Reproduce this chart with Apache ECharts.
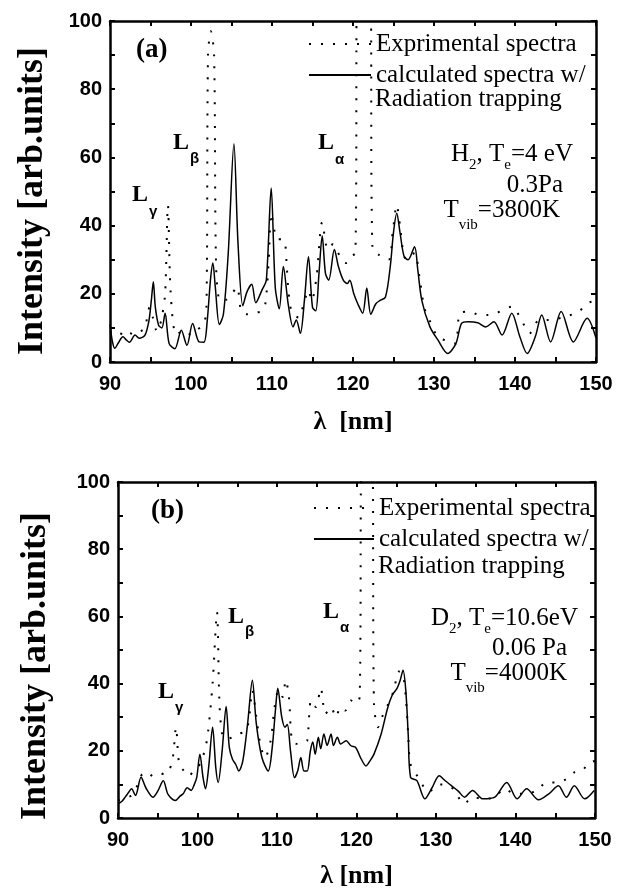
<!DOCTYPE html>
<html><head><meta charset="utf-8">
<script src="https://cdn.jsdelivr.net/npm/echarts@6/dist/echarts.min.js"></script>
<style>html,body{margin:0;padding:0;background:#fff}#c{width:625px;height:890px}</style>
</head><body><div id="c"></div>
<script>
// ---- axis ranges / ticks ----
const xRange = [90, 150];
const xStep = 5;          // tick every 5 nm, label every 10
const xLabelEvery = 10;
const yRange = [0, 100];
const yStep = 10;         // tick every 10, label every 20
const yLabelEvery = 20;

// ---- panel (a): H2 ----
const topExperimental = [
 [90.0,9],[90.5,8],[91.2,8.5],[91.8,7.5],[92.4,8.5],[93.0,8],[93.8,9],[94.3,10],[94.9,16],[95.3,13],
 [95.8,9],[96.3,12],[96.8,20],[97.15,46],[97.5,20],[98.2,8],[99.2,9.3],[100.0,8],[100.5,9],[101.5,11],
 [101.9,15],[102.1,90],[102.45,97],[102.85,90],[103.1,28],[103.6,18],[104.3,18.2],[105.1,20.2],[105.7,22],
 [106.2,15],[107.0,14],[108.0,14.5],[108.8,15],[109.2,17.4],[109.6,30],[109.9,43.6],[110.2,40],[110.6,36],
 [111.2,36],[111.6,35],[111.8,29],[112.0,22],[112.4,15],[113.3,13],[113.9,17],[114.5,21],[114.9,18],
 [115.5,25],[116.2,41],[116.9,33],[117.5,34.5],[118.6,30],[119.2,29],[119.8,31],[120.3,32],[120.55,110],
 [122.1,110],[122.4,33.4],[123.2,31.4],[124.4,30],[124.9,38],[125.4,46],[125.8,40],[126.3,31],[126.8,30],
 [127.6,32],[128.2,25],[128.8,16],[129.5,12],[130.5,7.4],[132.0,5.9],[132.7,5.4],[133.2,14.3],[134.4,14.8],
 [135.6,13.8],[136.6,13.8],[137.5,14],[138.4,15.2],[139.6,16.2],[140.8,12.3],[141.8,8.4],[143.0,12.3],
 [144.2,12.3],[146.2,13.3],[147.9,14.8],[148.9,17.2],[150.0,18]
];
const topCalculated = [
 [90.0,11],[90.3,6],[90.6,4],[91.0,5.5],[91.6,7.4],[92.0,6.5],[92.4,5.8],[93.1,7.9],[93.6,7],[94.3,7.8],
 [94.8,12],[95.1,18],[95.35,23.5],[95.6,16],[96.0,10.8],[96.4,10],[96.8,14.3],[97.3,5.4],[98.0,3.9],
 [98.8,9.3],[99.5,4.9],[100.2,11.3],[101.0,5.9],[101.6,5.8],[102.0,12],[102.4,24],[102.7,29],[103.0,22],
 [103.5,11],[104.0,14],[104.6,32],[105.3,64],[105.8,35],[106.4,16.5],[106.9,20.5],[107.5,22.8],[108.0,17.4],
 [108.8,21.3],[109.3,24],[109.9,51],[110.4,22],[110.9,15.6],[111.4,28],[112.0,17],[112.6,10.3],[113.0,12.3],
 [113.5,8.4],[114.0,18],[114.5,30.9],[115.0,16],[115.4,15],[115.8,26],[116.2,37],[116.6,26],[117.0,24],
 [117.7,33],[118.2,28],[118.8,24],[119.3,23],[119.6,24],[120.1,20],[120.6,17],[121.2,14.3],[121.7,21.7],
 [122.2,14],[122.8,17],[123.3,18],[124.0,19],[124.6,28],[125.0,38],[125.4,43.6],[125.8,38],[126.3,31],
 [126.8,30],[127.6,33.8],[128.0,27],[128.5,18],[129.5,10.3],[130.5,6.4],[131.7,2.5],[132.7,5.4],[133.4,11.3],
 [134.2,11.8],[135.4,11.5],[136.4,10.3],[137.4,11.8],[138.4,7.9],[139.6,14.3],[140.6,7.4],[141.5,2.5],
 [142.5,7.4],[143.3,13.8],[144.4,5.9],[145.7,14.8],[147.2,5.9],[148.9,12.8],[150.0,7]
];

// ---- panel (b): D2 ----
const bottomExperimental = [
 [90.0,5.2],[90.8,6],[91.7,6.7],[92.5,10],[93.1,13],[93.7,12],[94.4,13],[95.2,13.5],[95.8,13],[96.4,14],
 [96.9,18],[97.3,27],[97.7,16],[98.3,14],[98.9,12.5],[99.5,14],[100.0,15],[100.5,17],[101.0,21],[101.3,25],
 [101.9,40],[102.45,61.3],[102.75,35],[103.1,25],[103.6,23.5],[104.4,24],[105.2,25],[106.1,26],[106.5,30],
 [106.9,38],[107.4,30],[107.9,22],[108.5,18],[109.2,23],[109.7,33],[110.2,38],[110.7,36],[111.1,41],
 [111.5,36],[111.9,23],[112.6,22],[113.4,22.5],[113.8,23],[114.3,35],[114.9,33],[115.5,38.6],[116.1,31],
 [116.8,33],[117.4,30],[118.0,33],[118.6,32],[119.3,35],[119.9,34],[120.4,36],[120.7,110],[121.95,110],
 [122.2,34],[122.7,27],[123.2,30],[124.0,34],[124.7,38],[125.3,43.6],[125.8,43],[126.2,36],[126.5,25],
 [126.8,16],[127.8,12],[129.1,7.8],[130.4,10],[131.6,9.7],[132.4,8],[133.5,4.2],[134.7,6.2],[135.9,5.7],
 [137.4,6.2],[138.6,8.7],[139.9,7.2],[141.2,7.2],[142.7,8.2],[143.9,10.6],[145.2,10.6],[146.4,11.6],
 [147.4,13.6],[148.4,14.1],[149.2,16.5],[150.0,17]
];
const bottomCalculated = [
 [90.0,4.2],[90.5,5],[90.9,6.2],[91.3,7.5],[91.7,8.7],[92.2,6.7],[92.9,12.1],[93.5,9],[94.4,6.2],[95.0,8],
 [95.7,11.1],[96.3,7],[97.2,5.2],[97.8,6.5],[98.2,7.2],[98.7,9],[99.2,8.2],[99.6,10],[99.9,12],[100.3,19],
 [100.7,12],[101.0,8.7],[101.4,15],[101.9,27],[102.3,15],[102.6,10.6],[103.1,20],[103.6,33.2],[104.0,21],
 [104.4,17.5],[104.8,16],[105.2,14],[105.7,17],[106.3,28],[106.9,41],[107.4,28],[108.1,18],[108.9,14],
 [109.4,21],[109.8,32],[110.1,38.6],[110.6,30],[111.0,27],[111.3,27.8],[111.7,20],[112.2,12],[112.6,14],
 [113.0,18],[113.4,14],[113.8,14],[114.2,20],[114.5,22.6],[114.8,19],[115.2,24],[115.5,20.6],[115.9,25],
 [116.3,21.6],[116.8,25],[117.1,21.6],[117.6,24],[118.0,22],[118.7,23],[119.3,21.5],[119.9,21],[120.5,18],
 [121.2,15.5],[121.7,17],[122.2,19],[123.1,25],[123.9,32.6],[124.5,36.6],[125.1,38.6],[125.5,41],[125.85,44],
 [126.2,38],[126.5,25],[126.8,12.1],[127.6,11.1],[128.6,5.7],[129.5,9],[130.4,12.6],[131.2,11],[131.9,9.7],
 [132.8,8],[133.6,6.2],[134.6,8.2],[135.9,5.7],[137.4,6.2],[138.9,10.6],[140.2,5.7],[141.4,8.7],[142.9,5.4],
 [144.2,7.2],[145.4,9.6],[146.4,6.2],[147.4,9.6],[148.7,5.7],[149.9,8.2]
];

const serif = '"Liberation Serif", "Times New Roman", serif';
const sans = '"Liberation Sans", Arial, sans-serif';

function xAx(gi, pos, withLabels, nameGap) {
  return {
    gridIndex: gi, type: 'value', position: pos, min: xRange[0], max: xRange[1], interval: xStep,
    axisLine: {onZero: false, lineStyle: {color: '#000', width: 2.5}},
    axisTick: {inside: true, length: 5, lineStyle: {color: '#000', width: 2}},
    splitLine: {show: false},
    axisLabel: {show: withLabels, margin: 12, color: '#000', fontFamily: sans, fontWeight: 'bold', fontSize: 20,
      formatter: v => (v % xLabelEvery === 0 ? String(v) : '')},
    name: withLabels ? (gi === 0 ? 'λ  [nm]' : 'λ [nm]') : '',
    nameLocation: 'middle', nameGap: nameGap,
    nameTextStyle: {color: '#000', fontFamily: serif, fontWeight: 'bold', fontSize: 26}
  };
}
function yAx(gi, pos, withLabels) {
  return {
    gridIndex: gi, type: 'value', position: pos, min: yRange[0], max: yRange[1], interval: yStep,
    axisLine: {onZero: false, lineStyle: {color: '#000', width: 2.5}},
    axisTick: {inside: true, length: 5, lineStyle: {color: '#000', width: 2}},
    splitLine: {show: false},
    axisLabel: {show: withLabels, margin: 8, color: '#000', fontFamily: sans, fontWeight: 'bold', fontSize: 20,
      formatter: v => (v % yLabelEvery === 0 ? String(v) : '')}
  };
}

const dotted = {color: '#000', width: 2, type: [2, 10], cap: 'butt'};
const solid = {color: '#000', width: 1.5, type: 'solid'};
function ser(name, data, xi, yi, ls) {
  return {name, type: 'line', xAxisIndex: xi, yAxisIndex: yi, data, symbol: 'none', smooth: 0.3,
    lineStyle: ls, itemStyle: {color: '#000'}, clip: true, silent: true, animation: false, z: ls === solid ? 3 : 2};
}

const main = {fontFamily: serif, fontSize: 25, lineHeight: 30, verticalAlign: 'top', color: '#000'};
function sub(p) { return {fontFamily: serif, fontSize: 15, lineHeight: 15, verticalAlign: 'top', padding: [p, 0, 0, 0], color: '#000'}; }
const Lmain = {fontFamily: serif, fontWeight: 'bold', fontSize: 24, lineHeight: 26, verticalAlign: 'top', color: '#000'};
function Lsub(p) { return {fontFamily: sans, fontWeight: 'bold', fontSize: 15, lineHeight: 15, verticalAlign: 'top', padding: [p, 0, 0, 1], color: '#000'}; }

function richText(x, y, text, rich, align) {
  return {type: 'text', x, y, silent: true,
    style: {text, rich, align: align || 'left', textAlign: align || 'left', verticalAlign: 'top', textVerticalAlign: 'top', fill: '#000'}};
}
function plain(x, y, text, font, align) {
  return {type: 'text', x, y, silent: true,
    style: {text, font, fill: '#000', align: align || 'left', textAlign: align || 'left', verticalAlign: 'middle', textVerticalAlign: 'middle'}};
}
function yTitle(x, y) {
  return {type: 'text', x, y, rotation: Math.PI / 2, silent: true,
    style: {text: 'Intensity [arb.units]', font: 'bold 36px ' + serif, fill: '#000',
      align: 'center', textAlign: 'center', verticalAlign: 'middle', textVerticalAlign: 'middle'}};
}
const regFont = '25px ' + serif;
const boldFont = 'bold 27px ' + serif;
const legendBase = {orient: 'vertical', padding: 0, itemGap: 1, itemHeight: 14, selectedMode: false,
  itemStyle: {opacity: 0, color: 'rgba(0,0,0,0)', borderWidth: 0},
  textStyle: {fontFamily: serif, fontSize: 25, lineHeight: 30, color: '#000'}};

const option = {
  animation: false,
  backgroundColor: '#fff',
  grid: [
    {left: 110, top: 21, width: 486, height: 341},
    {left: 118, top: 482, width: 477, height: 339}
  ],
  xAxis: [xAx(0, 'bottom', true, 47), xAx(0, 'top', false, 0), xAx(1, 'bottom', true, 45), xAx(1, 'top', false, 0)],
  yAxis: [yAx(0, 'left', true), yAx(0, 'right', false), yAx(1, 'left', true), yAx(1, 'right', false)],
  legend: [
    Object.assign({}, legendBase, {left: 308, top: 29, itemWidth: 62, data: ['Exprimental spectra', 'calculated spectra w/']}),
    Object.assign({}, legendBase, {left: 313, top: 493, itemWidth: 60, data: ['Experimental spectra', 'calculated spectra w/ ']})
  ],
  series: [
    ser('Exprimental spectra', topExperimental, 0, 0, dotted),
    ser('calculated spectra w/', topCalculated, 0, 0, solid),
    ser('Experimental spectra', bottomExperimental, 2, 2, dotted),
    ser('calculated spectra w/ ', bottomCalculated, 2, 2, solid)
  ],
  graphic: [
    yTitle(33, 201),
    yTitle(36, 666),
    plain(136, 50, '(a)', boldFont),
    richText(132, 183, '{L|L}{s|γ}', {L: Lmain, s: Lsub(21)}),
    richText(173, 131, '{L|L}{s|β}', {L: Lmain, s: Lsub(20)}),
    richText(318, 131, '{L|L}{s|α}', {L: Lmain, s: Lsub(21)}),
    plain(375, 99, 'Radiation trapping', regFont),
    richText(573, 142, '{a|H}{s|2}{a|, T}{s|e}{a|=4 eV}', {a: main, s: sub(16)}, 'right'),
    plain(563, 185, '0.3Pa', regFont, 'right'),
    richText(560, 198, '{a|T}{v|vib}{a|=3800K}', {a: main, v: sub(20)}, 'right'),

    plain(151, 511, '(b)', boldFont),
    richText(158, 680, '{L|L}{s|γ}', {L: Lmain, s: Lsub(20)}),
    richText(228, 605, '{L|L}{s|β}', {L: Lmain, s: Lsub(19)}),
    richText(323, 600, '{L|L}{s|α}', {L: Lmain, s: Lsub(20)}),
    plain(378, 566, 'Radiation trapping', regFont),
    richText(578, 606, '{a|D}{s|2}{a|, T}{s|e}{a|=10.6eV}', {a: main, s: sub(16)}, 'right'),
    plain(567, 648, '0.06 Pa', regFont, 'right'),
    richText(567, 661, '{a|T}{v|vib}{a|=4000K}', {a: main, v: sub(20)}, 'right')
  ]
};
const chart = echarts.init(document.getElementById('c'), null, {renderer: 'canvas'});
chart.setOption(option);
</script></body></html>
